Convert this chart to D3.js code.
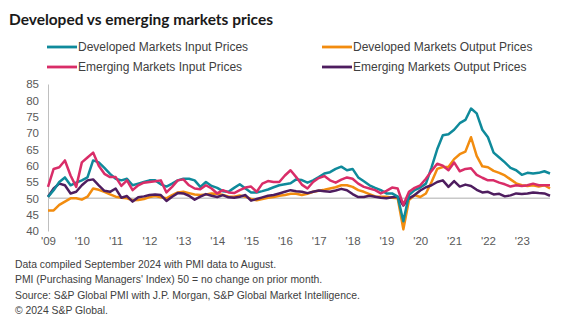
<!DOCTYPE html>
<html>
<head>
<meta charset="utf-8">
<script src="https://cdn.jsdelivr.net/npm/d3@7"></script>
<style>
  body { margin: 0; background: #fff; }
  svg { display: block; }
</style>
</head>
<body>
<script>
// bimonthly readings, Jan 2009 onward (index 0 = Jan '09)
const yearLabels = ["'09","'10","'11","'12","'13","'14","'15","'16","'17","'18","'19","'20","'21","'22","'23"];
const yTicks = [40,45,50,55,60,65,70,75,80,85];

const dmInput = [50.4,52.5,55,56.4,54,54.8,55.5,56.4,61.6,61,59.3,57.5,56,55.5,56,54,54.5,55,55.5,55.5,
  54.3,53.6,54.5,55.5,56,56,55.5,53.5,55,53.8,53.2,52.2,52,53.2,54.3,53,51.8,51.8,52.2,52.7,
  53.4,54,54.3,54.6,55.8,55.6,54.8,55.5,56.5,57.6,58,59,59.7,58.6,59,56.4,55.2,54,53.2,52.5,
  51.5,51.5,50.5,43,51,52.5,53.3,54.5,59.5,65,69.3,69.6,71,73,74,77.5,76,71,68.7,64,
  62.5,61,59.3,58.6,57.2,57.8,57.6,57.8,58.3,57.6];
const dmOutput = [46.3,46.3,48,49,50,50,49.6,50.5,53,52.6,52,51.2,50.5,50.2,50,49.4,49.5,49.8,50.4,50.7,
  50.3,50,51,51.8,52,51.6,51.2,51,51.2,51.5,51.4,51,50.6,50.5,50.9,50.5,49.8,49.4,49.8,50.2,
  50.4,50.8,51,51.4,51.4,51,51.4,52,52.3,52.6,53,53.4,54,54,53.5,52.5,52,51.3,50.6,50.5,
  50.5,50.2,50,40.5,49.5,51,50.4,51.5,55,59,59.6,59.6,62,63.5,64.3,68.7,63,59.8,59.5,58.4,
  57.8,57,55.8,54.6,54,53.8,54,53.6,54,53];
const emInput = [53.5,59,59.5,61.6,57,53.5,61,62.5,64,60,57.5,56.5,56.5,53.8,55.5,52.5,54,54.8,55,55.2,
  55.5,51.8,53.5,55.5,55.8,54,53,52.8,54,53,51.5,52.5,51.8,51.6,52.5,53.3,53.6,52,54.5,55.3,
  55,55,57,58.6,56.5,54.2,53,55,56.2,56.8,55.5,54.8,55.7,56.4,56,54.5,53.5,53,52.5,51.5,
  52.3,53.3,53,48,52,53.2,54,56,58.4,60.6,60,58.6,61,58.3,59,59.2,57.2,56.3,55.5,55.5,
  54.8,54.3,53.6,54,53.8,54,54.5,54,54,54];
const emOutput = [50.5,53,54.5,54,51.5,52,54,55.5,55.8,54,52.3,52,53,50.2,50.7,49,50.3,50.6,51,51.2,
  51,49.2,50.5,51.6,51.5,50.8,49.6,50.5,51.3,50.8,50.4,51,50.3,50.2,50.5,51,49.3,49.8,50.3,50.8,
  51,51.5,52,52.5,52.2,52,51.6,52,52.4,52.2,52,52.4,52.9,52.5,51.3,50.4,50.4,50.8,50.5,50.2,
  50,50.3,50.5,47.8,50,51,52.4,53.4,54,55,55.5,53.5,55.3,53.6,54.2,53.8,52.6,51.8,52,51.2,
  51.4,50.6,50.9,51.5,51.3,51.5,51.8,51.6,51.5,50.8];

const seriesNames = ["Developed Markets Input Prices","Developed Markets Output Prices",
  "Emerging Markets Input Prices","Emerging Markets Output Prices"];
const seriesColors = ["#0f8a9b","#f28c0f","#d92d68","#4e1d5f"];
const seriesData = [dmInput, dmOutput, emInput, emOutput];
// draw order: orange and purple underneath, teal and pink above
const drawOrder = [1,3,0,2];

const notes = [
  "Data compiled September 2024 with PMI data to August.",
  "PMI (Purchasing Managers' Index) 50 = no change on prior month.",
  "Source: S&P Global PMI with J.P. Morgan, S&P Global Market Intelligence.",
  "\u00a9 2024 S&P Global."
];

const W = 562, H = 321;
const plotLeft = 48, plotRight = 550, plotTop = 84, plotBottom = 231;
const stepsPerYear = 6;

const svg = d3.select("body").append("svg").attr("width", W).attr("height", H);

svg.append("text")
  .attr("x", 9).attr("y", 25)
  .attr("font-family", "Lato").attr("font-weight", 700)
  .attr("font-size", 16).attr("fill", "#1a1a1a")
  .attr("textLength", 264).attr("lengthAdjust", "spacingAndGlyphs")
  .text("Developed vs emerging markets prices");

// legend
const legPos = [[47,47],[322,47],[47,67],[322,67]];
seriesNames.forEach((name, i) => {
  const g = svg.append("g").attr("transform", `translate(${legPos[i][0]},${legPos[i][1]})`);
  g.append("line").attr("x1", 0).attr("x2", 30).attr("y1", 0).attr("y2", 0)
    .attr("stroke", seriesColors[i]).attr("stroke-width", 2.8);
  g.append("text").attr("x", 31).attr("y", 4.2)
    .attr("font-family", "Liberation Sans").attr("font-size", 12).attr("fill", "#404040")
    .text(name);
});

const n = dmInput.length;
const x = d3.scaleLinear().domain([0, n - 1]).range([plotLeft, plotRight]);
const y = d3.scaleLinear().domain([40, 85]).range([plotBottom, plotTop]);

// y axis
const yAxis = d3.axisLeft(y).tickValues(yTicks).tickSize(0).tickPadding(9);
const yg = svg.append("g").attr("transform", `translate(${plotLeft},0)`).call(yAxis);
yg.select(".domain").attr("stroke", "#bfbfbf").attr("stroke-width", 1);
yg.selectAll("text").attr("font-family", "Liberation Sans").attr("font-size", 11.5).attr("fill", "#595959");

// x axis labels (one per year)
const xAxis = d3.axisBottom(x)
  .tickValues(yearLabels.map((d, i) => i * stepsPerYear))
  .tickFormat((d, i) => yearLabels[i]).tickSize(0).tickPadding(6);
const xg = svg.append("g").attr("transform", `translate(0,${plotBottom})`).call(xAxis);
xg.select(".domain").remove();
xg.selectAll("text").attr("font-family", "Liberation Sans").attr("font-size", 11.5).attr("fill", "#595959");

// 50 line
svg.append("line").attr("x1", plotLeft).attr("x2", plotRight).attr("y1", y(50)).attr("y2", y(50))
  .attr("stroke", "#c8c8c8").attr("stroke-width", 1.5);

const line = d3.line().x((d, i) => x(i)).y(d => y(d));
drawOrder.forEach(k => {
  svg.append("path").datum(seriesData[k])
    .attr("d", line).attr("fill", "none")
    .attr("stroke", seriesColors[k]).attr("stroke-width", 2.5)
    .attr("stroke-linejoin", "round");
});

// notes
svg.selectAll(".note").data(notes).enter().append("text")
  .attr("x", 15).attr("y", (d, i) => 268 + i * 15.3)
  .attr("font-family", "Liberation Sans").attr("font-size", 10.4).attr("fill", "#404040")
  .text(d => d);
</script>
</body>
</html>
